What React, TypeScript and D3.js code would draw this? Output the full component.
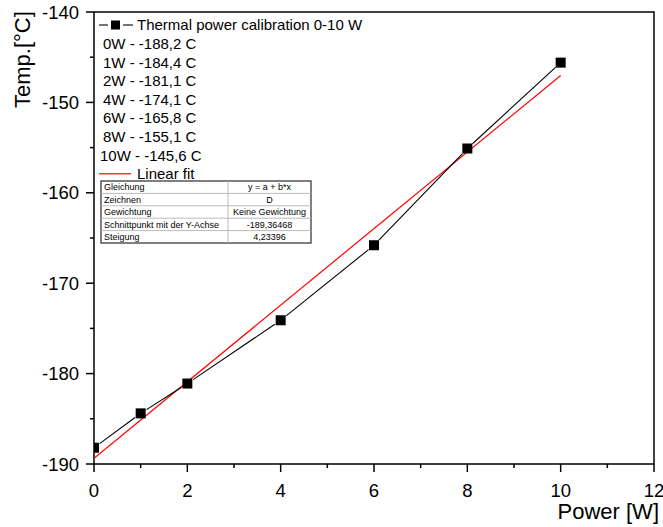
import React from "react";
import * as d3 from "d3";

const powers = [0, 1, 2, 4, 6, 8, 10];
const temps = [-188.2, -184.4, -181.1, -174.1, -165.8, -155.1, -145.6];
const fitIntercept = -189.36468;
const fitSlope = 4.23396;
const legendTitle = "Thermal power calibration 0-10 W";
const legendRows = [
  "0W - -188,2 C",
  "1W - -184,4 C",
  "2W - -181,1 C",
  "4W - -174,1 C",
  "6W - -165,8 C",
  "8W - -155,1 C",
  "10W - -145,6 C",
];
const fitLabel = "Linear fit";
const tableLeft = ["Gleichung", "Zeichnen", "Gewichtung", "Schnittpunkt mit der Y-Achse", "Steigung"];
const tableRight = ["y = a + b*x", "D", "Keine Gewichtung", "-189,36468", "4,23396"];
const xMajor = [0, 2, 4, 6, 8, 10, 12];
const xMinor = [1, 3, 5, 7, 9, 11];
const yMajor = [-190, -180, -170, -160, -150, -140];
const yMinor = [-185, -175, -165, -155, -145];

const W = 663;
const H = 527;
const L = 94, R = 654, T = 12, B = 464;
const FONT = "'Liberation Sans', Arial, sans-serif";

export default function App() {
  const x = d3.scaleLinear().domain([0, 12]).range([L, R]);
  const y = d3.scaleLinear().domain([-190, -140]).range([B, T]);
  const fitFn = (p: number) => fitIntercept + fitSlope * p;

  const pts = powers.map((p, i) => [x(p), y(temps[i])] as [number, number]);
  const gap = 7;
  const segs = pts.slice(1).map((b, i) => {
    const a = pts[i];
    const dx = b[0] - a[0], dy = b[1] - a[1];
    const len = Math.hypot(dx, dy);
    const ux = dx / len, uy = dy / len;
    return [a[0] + ux * gap, a[1] + uy * gap, b[0] - ux * gap, b[1] - uy * gap];
  });

  const ms = 10;
  const legY0 = 25;
  const legStep = 18.6;

  const tX = 101, tY = 181, tW = 210, tDiv = 228, rowH = 12.4;

  return (
    <svg width={W} height={H} style={{ position: "absolute", left: 0, top: 0, background: "#fff" }} fontFamily={FONT}>
      <defs>
        <clipPath id="plotclip">
          <rect x={L} y={T} width={R - L} height={B - T} />
        </clipPath>
      </defs>
      <rect x={0} y={0} width={W} height={H} fill="#fff" />

      {/* frame */}
      <rect x={L} y={T} width={R - L} height={B - T} fill="none" stroke="#000" strokeWidth={1.5} />

      {/* y ticks */}
      {yMajor.map((v) => (
        <g key={"ym" + v}>
          <line x1={L - 8} x2={L} y1={y(v)} y2={y(v)} stroke="#000" strokeWidth={1.5} />
          <text x={79} y={y(v)} dy="0.36em" textAnchor="end" fontSize={18.5}>{v}</text>
        </g>
      ))}
      {yMinor.map((v) => (
        <line key={"yn" + v} x1={L - 4} x2={L} y1={y(v)} y2={y(v)} stroke="#000" strokeWidth={1.5} />
      ))}

      {/* x ticks */}
      {xMajor.map((v) => (
        <g key={"xm" + v}>
          <line x1={x(v)} x2={x(v)} y1={B} y2={B + 8} stroke="#000" strokeWidth={1.5} />
          <text x={x(v)} y={497} textAnchor="middle" fontSize={18.5}>{v}</text>
        </g>
      ))}
      {xMinor.map((v) => (
        <line key={"xn" + v} x1={x(v)} x2={x(v)} y1={B} y2={B + 4} stroke="#000" strokeWidth={1.5} />
      ))}

      {/* axis titles */}
      <text x={659} y={519} textAnchor="end" fontSize={22}>Power [W]</text>
      <text transform={`translate(30,108) rotate(-90)`} textAnchor="start" fontSize={22}>Temp.[°C]</text>

      <g clipPath="url(#plotclip)">
        {/* fit line */}
        <line x1={x(0)} y1={y(fitFn(0))} x2={x(10)} y2={y(fitFn(10))} stroke="#ff0000" strokeWidth={1.2} />
        {/* data line */}
        {segs.map((s, i) => (
          <line key={"s" + i} x1={s[0]} y1={s[1]} x2={s[2]} y2={s[3]} stroke="#000" strokeWidth={1.1} />
        ))}
        {pts.map((p, i) => (
          <rect key={"m" + i} x={p[0] - ms / 2} y={p[1] - ms / 2} width={ms} height={ms} fill="#000" />
        ))}
      </g>

      {/* legend */}
      <line x1={99} x2={108} y1={legY0} y2={legY0} stroke="#000" strokeWidth={1.1} />
      <line x1={123} x2={133} y1={legY0} y2={legY0} stroke="#000" strokeWidth={1.1} />
      <rect x={111} y={legY0 - 4.5} width={9} height={9} fill="#000" />
      <text x={137} y={legY0} dy="0.36em" fontSize={15}>{legendTitle}</text>
      {legendRows.map((r, i) => (
        <text key={"lr" + i} x={r.startsWith("10") ? 100 : 103} y={legY0 + legStep * (i + 1)} dy="0.36em" fontSize={15}>{r}</text>
      ))}
      <line x1={99} x2={131} y1={legY0 + legStep * 8} y2={legY0 + legStep * 8} stroke="#ff0000" strokeWidth={1.2} />
      <text x={137} y={legY0 + legStep * 8} dy="0.36em" fontSize={15}>{fitLabel}</text>

      {/* table */}
      <rect x={tX} y={tY} width={tW} height={rowH * 5} fill="#fff" stroke="#555" strokeWidth={1.5} />
      {tableLeft.slice(1).map((_, i) => (
        <line key={"tl" + i} x1={tX} x2={tX + tW} y1={tY + rowH * (i + 1)} y2={tY + rowH * (i + 1)} stroke="#bbb" strokeWidth={1} />
      ))}
      <line x1={tDiv} x2={tDiv} y1={tY} y2={tY + rowH * 5} stroke="#bbb" strokeWidth={1} />
      {tableLeft.map((t, i) => (
        <text key={"tt" + i} x={tX + 3} y={tY + rowH * (i + 0.5)} dy="0.36em" fontSize={9}>{t}</text>
      ))}
      {tableRight.map((t, i) => (
        <text key={"tr" + i} x={(tDiv + tX + tW) / 2} y={tY + rowH * (i + 0.5)} dy="0.36em" fontSize={9} textAnchor="middle">{t}</text>
      ))}
    </svg>
  );
}
